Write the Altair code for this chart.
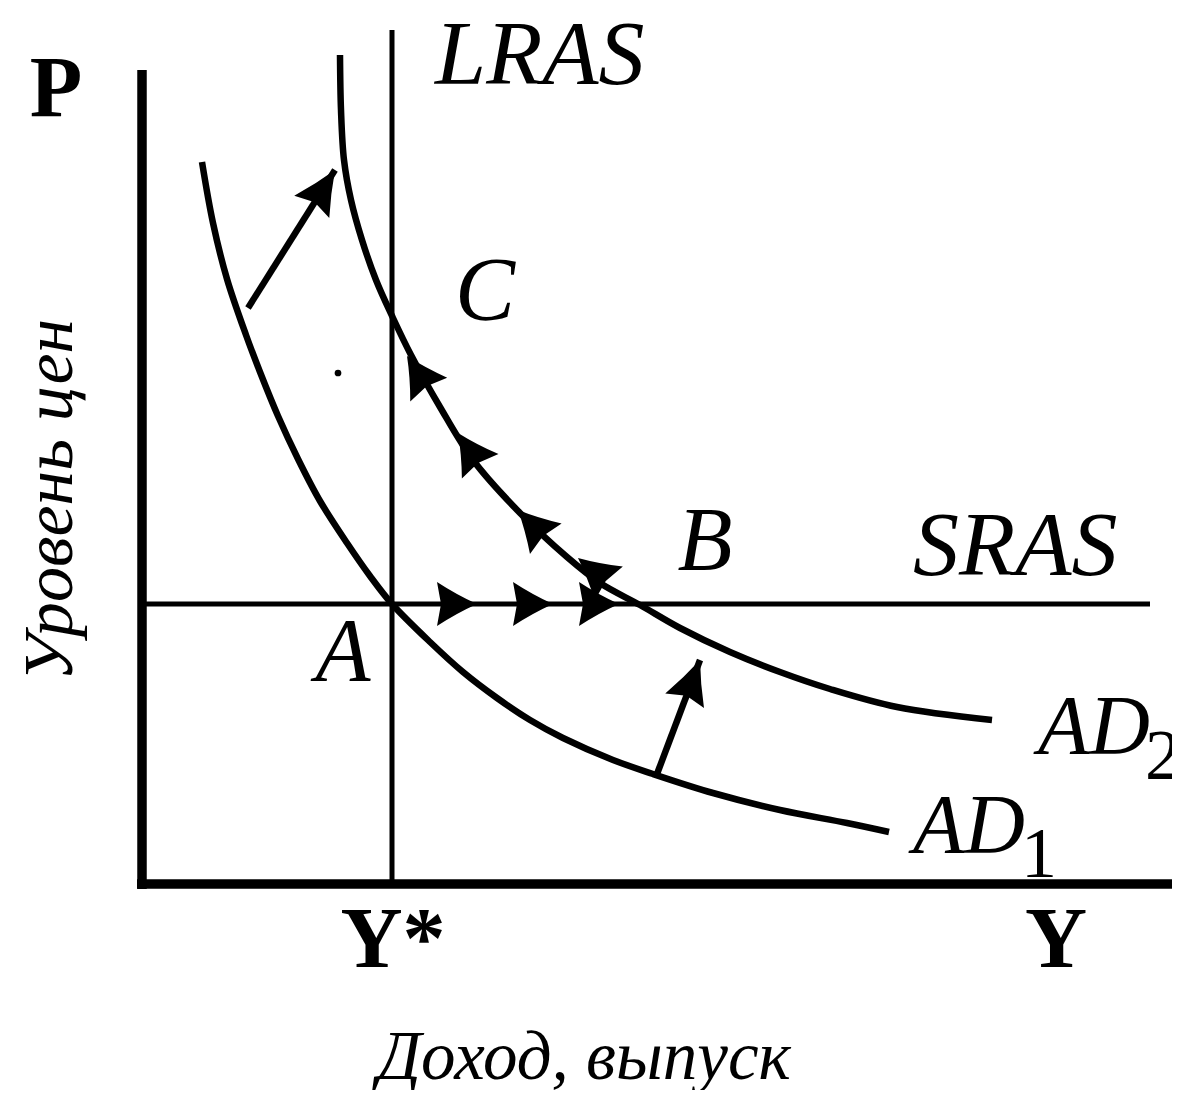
import math
import altair as alt
import pandas as pd

# ---------------- data (economic units: x = output Y, y = price level P) -------------
# Aggregate demand curves
ad1_x = [6.0, 7.1, 8.5, 10.4, 11.8, 13.6, 15.6, 17.8, 20.5, 22.8, 25.0, 28.8, 32.1, 35.5, 38.8, 42.1, 47.1, 51.1, 57.1, 63.8, 70.5, 74.7]
ad1_y = [72.2, 66.1, 60.5, 54.9, 51.2, 46.8, 42.5, 38.3, 34.1, 30.8, 28.0, 24.2, 21.2, 18.6, 16.4, 14.6, 12.4, 11.0, 9.1, 7.4, 6.1, 5.2]
ad2_x = [19.8, 19.9, 20.2, 20.9, 22.0, 23.4, 25.1, 26.9, 29.8, 33.1, 37.8, 42.5, 45.8, 49.8, 53.8, 58.8, 63.8, 68.8, 75.5, 85.0]
ad2_y = [82.9, 77.4, 72.4, 68.4, 64.4, 60.4, 56.6, 52.9, 47.7, 42.4, 37.1, 32.7, 30.1, 27.9, 25.6, 23.2, 21.2, 19.5, 17.7, 16.4]

# Axes (origin at 0,0)
axes_x = [0.0, -0.5]
axes_y = [-0.5, 0.0]
axes_x2 = [0.0, 103.3]
axes_y2 = [81.4, 0.0]

# Supply lines: LRAS vertical at Y*, SRAS horizontal at the initial price level
supply_x = [25.0, 0.0]
supply_y = [0.0, 28.0]
supply_x2 = [25.0, 100.8]
supply_y2 = [85.4, 28.0]

# Shift arrows (AD1 -> AD2)
shift_tail_x = [10.6, 51.5]
shift_tail_y = [57.6, 11.0]
shift_tip_x = [19.3, 55.8]
shift_tip_y = [71.4, 22.4]

# Path arrowheads: along SRAS (A -> B) and along AD2 (B -> C)
path_tip_x = [33.5, 41.1, 47.7, 26.5, 31.6, 37.6, 43.6]
path_tip_y = [28.0, 28.0, 28.0, 52.8, 45.1, 37.4, 32.6]
path_from_x = [30.0, 37.6, 44.0, 29.8, 34.5, 40.5, 46.5]
path_from_y = [28.0, 28.0, 28.0, 47.7, 40.75, 34.4, 30.2]

# Stray dot
dot_x = [19.6]
dot_y = [51.1]

# Labels
italic_text = ["LRAS", "SRAS"]
italic_x = [29.3, 77.1]
italic_y = [80.0, 30.9]
ad_text = ["AD", "AD"]
ad_x = [77.1, 89.6]
ad_y = [3.1, 13.0]
point_text = ["C", "B", "A"]
point_x = [34.3, 56.3, 20.1]
point_y = [56.4, 31.4, 20.3]
sub_text = ["1", "2"]
sub_x = [87.9, 100.3]
sub_y = [0.7, 10.5]
bold_text = ["P", "Y*", "Y"]
bold_x = [-8.6, 25.1, 91.4]
bold_y = [76.8, -8.3, -8.3]
ytitle = ["Уровень цен"]
ytitle_x = [-7.0]
ytitle_y = [38.4]
xtitle = ["Доход, выпуск"]
xtitle_x = [44.2]
xtitle_y = [-19.5]

# ---------------- chart ----------------
W, H = 1164, 1082
XS = alt.Scale(domain=[-13.4, 103.0], nice=False, zero=False)
YS = alt.Scale(domain=[-20.6, 87.6], nice=False, zero=False)
FONT = "Liberation Serif"


def X(f="x"):
    return alt.X(f"{f}:Q", scale=XS, axis=None)


def Y(f="y"):
    return alt.Y(f"{f}:Q", scale=YS, axis=None)


def rules(xs, ys, x2s, y2s, width):
    df = pd.DataFrame({"x": xs, "y": ys, "x2": x2s, "y2": y2s})
    return alt.Chart(df).mark_rule(color="black", strokeWidth=width, strokeCap="butt").encode(
        x=X(), y=Y(), x2="x2:Q", y2="y2:Q"
    )


axes = rules(axes_x, axes_y, axes_x2, axes_y2, 9.5)
supply = rules(supply_x, supply_y, supply_x2, supply_y2, 5)
shafts = rules(shift_tail_x, shift_tail_y, shift_tip_x, shift_tip_y, 6.5)

curves_df = pd.concat([
    pd.DataFrame({"x": ad1_x, "y": ad1_y, "curve": "AD1", "order": range(len(ad1_x))}),
    pd.DataFrame({"x": ad2_x, "y": ad2_y, "curve": "AD2", "order": range(len(ad2_x))}),
])
curves = alt.Chart(curves_df).mark_line(color="black", strokeWidth=6.5, interpolate="catmull-rom").encode(
    x=X(), y=Y(), detail="curve:N", order="order:Q"
)


def heading(tx, ty, fx, fy):
    return math.degrees(math.atan2(-(ty - fy), tx - fx)) % 360


PATH_HEAD = "M0,0 Q-1,-0.45 -2,-1.1 L-1.8,0 L-2,1.1 Q-1,0.45 0,0 Z"
SHIFT_HEAD = "M0,0 Q-1,-0.4 -2,-0.95 L-1.75,0 L-2,0.95 Q-1,0.4 0,0 Z"

shift_heads_df = pd.DataFrame({
    "x": shift_tip_x, "y": shift_tip_y,
    "angle": [heading(a, b, c, d) for a, b, c, d in zip(shift_tip_x, shift_tip_y, shift_tail_x, shift_tail_y)],
})
shift_heads = alt.Chart(shift_heads_df).mark_point(
    shape=SHIFT_HEAD, filled=True, color="black", opacity=1, size=1900, strokeWidth=0
).encode(x=X(), y=Y(), angle=alt.Angle("angle:Q", scale=None))

path_heads_df = pd.DataFrame({
    "x": path_tip_x, "y": path_tip_y,
    "angle": [heading(a, b, c, d) for a, b, c, d in zip(path_tip_x, path_tip_y, path_from_x, path_from_y)],
})
path_heads = alt.Chart(path_heads_df).mark_point(
    shape=PATH_HEAD, filled=True, color="black", opacity=1, size=1600, strokeWidth=0
).encode(x=X(), y=Y(), angle=alt.Angle("angle:Q", scale=None))

dot = alt.Chart(pd.DataFrame({"x": dot_x, "y": dot_y})).mark_circle(
    color="black", opacity=1, size=45
).encode(x=X(), y=Y())


def texts(t, xs, ys, size, style="normal", weight="normal", align="left", angle=0):
    df = pd.DataFrame({"t": t, "x": xs, "y": ys})
    kw = dict(font=FONT, fontSize=size, fontStyle=style, fontWeight=weight,
              align=align, baseline="alphabetic", color="black")
    if angle:
        kw["angle"] = angle
    return alt.Chart(df).mark_text(**kw).encode(x=X(), y=Y(), text="t:N")


lab_italic = texts(italic_text, italic_x, italic_y, 92, style="italic")
lab_ad = texts(ad_text, ad_x, ad_y, 84, style="italic")
lab_points = texts(point_text, point_x, point_y, 90, style="italic", align="center")
lab_sub = texts(sub_text, sub_x, sub_y, 72)
lab_bold = texts(bold_text, bold_x, bold_y, 86, weight="bold", align="center")
lab_ytitle = texts(ytitle, ytitle_x, ytitle_y, 70, style="italic", align="center", angle=270)
lab_xtitle = texts(xtitle, xtitle_x, xtitle_y, 69, style="italic", align="center")

chart = alt.layer(
    axes, supply, curves, shafts, shift_heads, path_heads, dot,
    lab_italic, lab_ad, lab_points, lab_sub, lab_bold, lab_ytitle, lab_xtitle,
).properties(
    width=W, height=H, padding=0,
    autosize=alt.AutoSizeParams(type="none"),
    background="white",
).configure_view(strokeWidth=0)

chart.save("out.html", embed_options={"renderer": "svg", "actions": False})
